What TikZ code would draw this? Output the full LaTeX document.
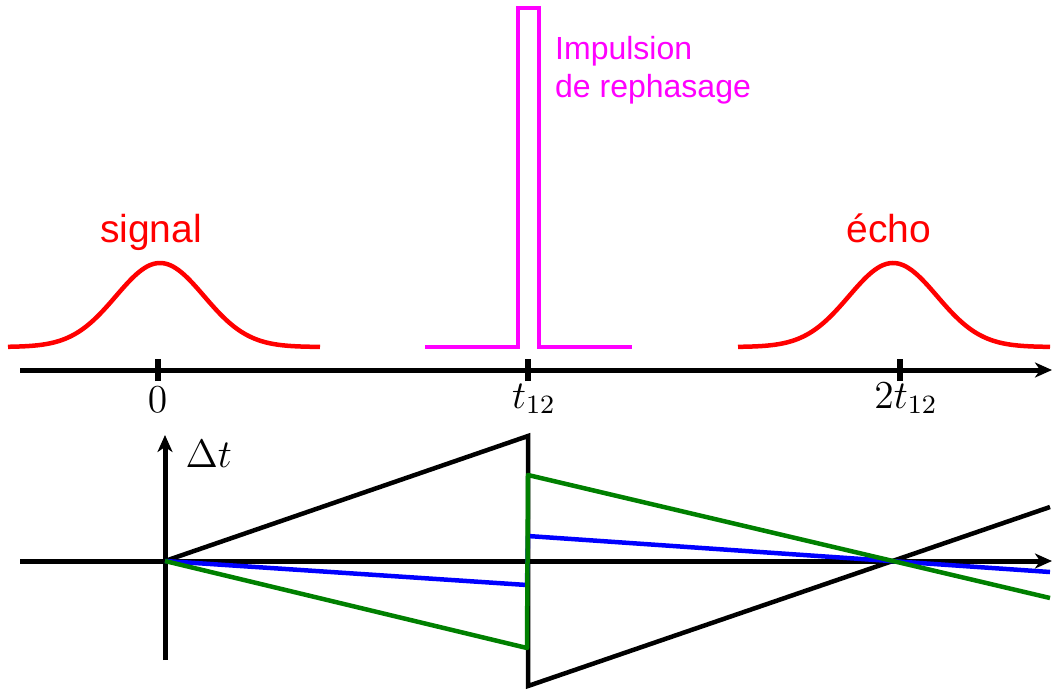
\documentclass[tikz,border=0pt]{standalone}
\usepackage{fontspec}
\newfontfamily\labelfont{Liberation Sans}
\usetikzlibrary{arrows.meta}
\definecolor{mred}{RGB}{255,0,0}
\definecolor{mmag}{RGB}{255,0,255}
\definecolor{mgreen}{RGB}{0,128,0}
\definecolor{mblue}{RGB}{0,0,255}
\tikzset{
  axis/.style={line width=5pt, -{Stealth[length=17pt,width=15pt,inset=5pt]}},
  tick/.style={line width=5.5pt},
  curve/.style={line width=4.5pt, line join=round},
  word/.style={font=\labelfont\fontsize{39}{44}\selectfont, inner sep=0pt},
  smallword/.style={font=\labelfont\fontsize{32}{37}\selectfont, inner sep=0pt},
  mathlbl/.style={font=\fontsize{12}{14}\selectfont, scale=3.3, transform shape, inner sep=0pt},
}
\begin{document}
\begin{tikzpicture}[x=1pt,y=-1pt]
\useasboundingbox (0,0) rectangle (1052,689);
% top axis
\coordinate (tA) at (20,370);
\coordinate (tB) at (1052,370);
\draw[axis] (tA) -- (tB);
\coordinate (k0) at (158,370);
\coordinate (k1) at (528,370);
\coordinate (k2) at (900,370);
\foreach \k in {k0,k1,k2}{\draw[tick] ([yshift=-11pt]\k) -- ([yshift=11pt]\k);}
\node[mathlbl, anchor=base] (l0) at (157.5,412) {$0$};
\node[mathlbl, anchor=base] (l1) at (534,408) {$t_{12}$};
\node[mathlbl, anchor=base] (l2) at (906,408) {$2t_{12}$};
% gaussians
\draw[curve, mred] plot[domain=8:320, samples=120] (\x, {347-84*exp(-((\x-160)/44)^2/2)});
\draw[curve, mred] plot[domain=738:1050, samples=120] (\x, {347-84*exp(-((\x-893)/44)^2/2)});
\node[word, text=mred, anchor=base] (sig) at (151,242) {signal};
\node[word, text=mred, anchor=base] (ech) at (889,242) {écho};
% pulse
\coordinate (p0) at (425,347);
\coordinate (p1) at (518,347);
\coordinate (p2) at (518,8);
\coordinate (p3) at (539,8);
\coordinate (p4) at (539,347);
\coordinate (p5) at (632,347);
\draw[curve, mmag, line join=miter] (p0) -- (p1) -- (p2) -- (p3) -- (p4) -- (p5);
\node[smallword, text=mmag, anchor=base west] (imp1) at (555,59) {Impulsion};
\node[smallword, text=mmag, anchor=base west] (imp2) at (555,97) {de rephasage};
% bottom axes
\coordinate (bA) at (20,561);
\coordinate (bB) at (1052,561);
\coordinate (vA) at (165,660);
\coordinate (vB) at (165,435);
\draw[axis] (bA) -- (bB);
\draw[axis] (vA) -- (vB);
\node[mathlbl, anchor=base west] (dt) at (185,467) {$\Delta t$};
% lines
\coordinate (O) at (165,561);
\coordinate (k1a) at (528,436);
\coordinate (k1b) at (528,686);
\coordinate (k1e) at (1050,507);
\draw[curve, black, line join=miter] (O) -- (k1a) -- (k1b) -- (k1e);
\coordinate (b1) at (527,585);
\coordinate (b2) at (528,536);
\coordinate (b3) at (1050,572);
\draw[curve, mblue] (O) -- (b1) -- (b2) -- (b3);
\coordinate (g1) at (527,648);
\coordinate (g2) at (528,475);
\coordinate (g3) at (1050,598);
\draw[curve, mgreen] (O) -- (g1) -- (g2) -- (g3);
\end{tikzpicture}
\end{document}
